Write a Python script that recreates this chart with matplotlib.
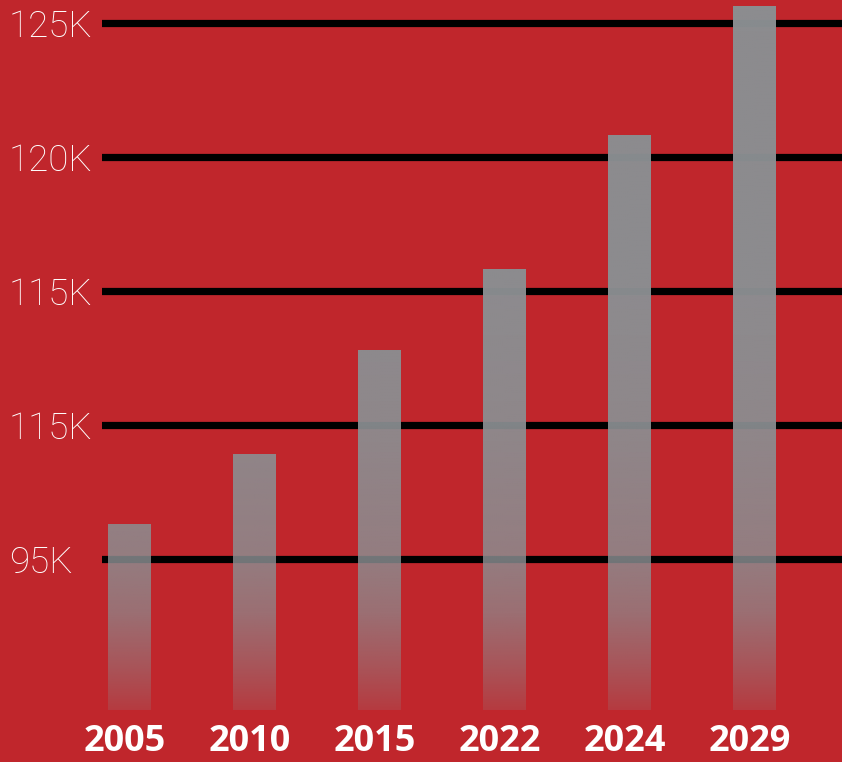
import numpy as np
import matplotlib
matplotlib.use('Agg')
import matplotlib.pyplot as plt
import matplotlib.transforms as mtransforms
from matplotlib.colors import to_rgb

# data (values in thousands)
years = ['2005', '2010', '2015', '2022', '2024', '2029']
values = [106.3, 108.9, 112.8, 115.8, 120.8, 125.6]
ytick_vals = [105, 110, 115, 120, 125]
ytick_labels = ['95K', '115K', '115K', '120K', '125K']

bg = '#C0262C'
bar_color = '#8B8F92'
base = 99.37

fig = plt.figure(figsize=(8.42, 7.62), dpi=100)
fig.patch.set_facecolor(bg)
ax = fig.add_axes([102/842, 52/762, 740/842, 710/762])
ax.set_facecolor(bg)

x = np.arange(len(years))
w = 0.344

# bars with alpha fading towards the bottom
rgb = np.array(to_rgb(bar_color))
for xi, v in zip(x, values):
    ys = np.linspace(base, v, 300)
    alpha = np.interp(ys, [base, 101, 103, 105, 110, 115, 130],
                      [0.2, 0.45, 0.7, 0.83, 0.93, 0.97, 0.98])
    img = np.zeros((len(ys), 1, 4))
    img[:, 0, :3] = rgb
    img[:, 0, 3] = alpha
    ax.imshow(img, extent=[xi - w/2, xi + w/2, base, v], origin='lower',
              aspect='auto', interpolation='bilinear', zorder=3)

ax.set_xlim(-0.22, 5.7)
ax.set_ylim(base, 125.86)

ax.set_yticks(ytick_vals)
ax.set_yticklabels(ytick_labels, family='Roboto', weight='light', fontsize=26.5, color='white')
for lab in ax.get_yticklabels():
    lab.set_horizontalalignment('left')
ax.tick_params(axis='y', length=0, pad=67)

ax.set_xticks(x)
ax.set_xticklabels(years, family='Open Sans', weight='bold', fontsize=26, color='white')
ax.tick_params(axis='x', length=0, pad=10)
shift = mtransforms.ScaledTranslation(-4.5/100, 0, fig.dpi_scale_trans)
for lab in ax.get_xticklabels():
    lab.set_transform(lab.get_transform() + shift)

ax.grid(axis='y', color='black', linewidth=5.2, zorder=1)
ax.set_axisbelow(True)
for s in ax.spines.values():
    s.set_visible(False)

fig.savefig('out.png', dpi=100, facecolor=bg)
